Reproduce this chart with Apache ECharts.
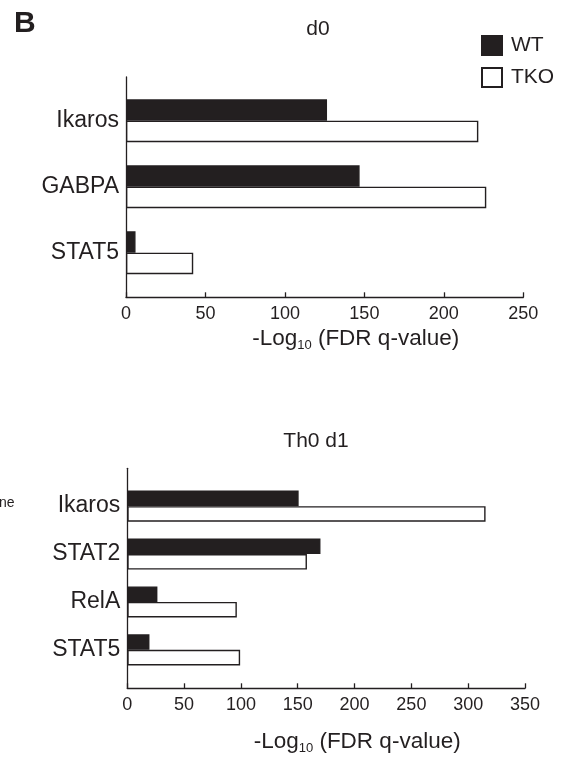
<!DOCTYPE html>
<html>
<head>
<meta charset="utf-8">
<script src="https://cdn.jsdelivr.net/npm/echarts@6/dist/echarts.min.js"></script>
<style>
  html, body { margin: 0; padding: 0; background: #fff; }
  #chart { width: 574px; height: 761px; }
</style>
</head>
<body>
<div id="chart"></div>
<script>
// Enrichment of transcription-factor motifs, WT vs TKO
const d0Categories = ['Ikaros', 'GABPA', 'STAT5'];
const d0WT = [126.5, 147, 6];
const d0TKO = [221.7, 226.7, 42.3];

const th0Categories = ['Ikaros', 'STAT2', 'RelA', 'STAT5'];
const th0WT = [150.8, 170, 26.5, 19.5];
const th0TKO = [315.3, 158.1, 96.4, 99.3];

const d0TickMax = 250;
const th0TickMax = 350;
const tickStep = 50;

const INK = '#231f20';
const FONT = '"Liberation Sans", Arial, Helvetica, sans-serif';

const chart = echarts.init(document.getElementById('chart'), null, { renderer: 'canvas' });

// frame axis (line + ticks + labels + name) for one panel
function frameX(gridIndex, max, nameGap) {
  return {
    type: 'value', gridIndex, min: 0, max, interval: tickStep,
    axisLine: { show: true, lineStyle: { color: INK, width: 1.3 } },
    axisTick: { show: true, inside: true, length: 5, lineStyle: { color: INK, width: 1.3 } },
    axisLabel: { show: true, margin: 8, fontSize: 18, color: INK, fontFamily: FONT },
    splitLine: { show: false },
    name: '-Log{sub|10} (FDR q-value)',
    nameLocation: 'middle',
    nameGap,
    nameTextStyle: {
      fontSize: 22.5, color: INK, fontFamily: FONT,
      padding: [0, 0, 0, 62],
      rich: { sub: { fontSize: 13, color: INK, fontFamily: FONT, padding: [15, 0, 0, 0] } }
    }
  };
}
function frameY(gridIndex) {
  return {
    type: 'value', gridIndex, min: 0, max: 1,
    axisLine: { show: true, lineStyle: { color: INK, width: 1.3 } },
    axisTick: { show: false }, axisLabel: { show: false }, splitLine: { show: false }
  };
}
function barX(gridIndex, max) {
  return {
    type: 'value', gridIndex, min: 0, max, show: false, splitLine: { show: false }
  };
}
function barY(gridIndex, cats) {
  return {
    type: 'category', gridIndex, data: cats, inverse: true,
    axisLine: { show: false }, axisTick: { show: false }, splitLine: { show: false },
    axisLabel: { margin: 7, fontSize: 23, color: INK, fontFamily: FONT }
  };
}
function bars(name, data, xi, filled) {
  return {
    type: 'bar', name, data, xAxisIndex: xi, yAxisIndex: xi,
    barGap: '0%', barCategoryGap: '35%',
    itemStyle: {
      color: filled ? INK : '#ffffff',
      borderColor: INK, borderWidth: 1.4
    },
    emphasis: { disabled: true },
    animation: false
  };
}

chart.setOption({
  animation: false,
  backgroundColor: '#ffffff',
  textStyle: { fontFamily: FONT },
  grid: [
    { left: 126, width: 397.3, top: 77, height: 220.3 },   // d0 frame
    { left: 126, width: 397.3, top: 87.7, height: 198 },   // d0 bars
    { left: 127.3, width: 397.7, top: 468.3, height: 220 }, // Th0 d1 frame
    { left: 127.3, width: 397.7, top: 482.2, height: 191.6 } // Th0 d1 bars
  ],
  xAxis: [
    frameX(0, d0TickMax, 27),
    barX(1, d0TickMax),
    frameX(2, th0TickMax, 39),
    barX(3, th0TickMax)
  ],
  yAxis: [
    frameY(0),
    barY(1, d0Categories),
    frameY(2),
    barY(3, th0Categories)
  ],
  legend: {
    data: ['WT', 'TKO'],
    orient: 'vertical',
    left: 481, top: 35, padding: 0,
    icon: 'rect',
    itemWidth: 20, itemHeight: 19, itemGap: 11,
    selectedMode: false,
    textStyle: { fontSize: 21, color: INK, fontFamily: FONT, padding: [0, 0, 0, 4] }
  },
  graphic: [
    { type: 'text', left: 14, top: 9, style: { text: 'B', font: 'bold 30px ' + FONT, fill: INK } },
    { type: 'text', x: 318, y: 29, style: { text: 'd0', font: '21px ' + FONT, fill: INK, textAlign: 'center', textVerticalAlign: 'middle' } },
    { type: 'text', x: 316, y: 441, style: { text: 'Th0 d1', font: '21px ' + FONT, fill: INK, textAlign: 'center', textVerticalAlign: 'middle' } },
    { type: 'text', x: -1, y: 503, style: { text: 'ne', font: '14px ' + FONT, fill: INK, textAlign: 'left', textVerticalAlign: 'middle' } }
  ],
  series: [
    bars('WT', d0WT, 1, true),
    bars('TKO', d0TKO, 1, false),
    bars('WT', th0WT, 3, true),
    bars('TKO', th0TKO, 3, false)
  ]
});
</script>
</body>
</html>
